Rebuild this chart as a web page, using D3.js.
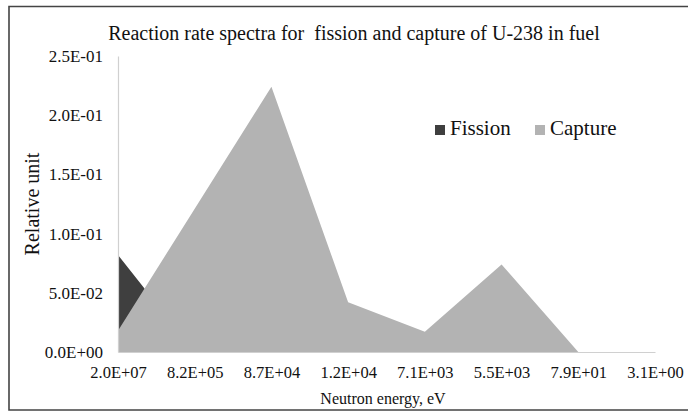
<!DOCTYPE html>
<html>
<head>
<meta charset="utf-8">
<script src="https://cdn.jsdelivr.net/npm/d3@7"></script>
<style>
  html, body { margin: 0; padding: 0; background: #fff; }
  svg { display: block; }
</style>
</head>
<body>
<svg id="chart" width="688" height="412"></svg>
<script>
// Neutron energy groups (eV), highest to lowest
const energies = ["2.0E+07", "8.2E+05", "8.7E+04", "1.2E+04", "7.1E+03", "5.5E+03", "7.9E+01", "3.1E+00"];
// Relative reaction rates per group
const fission = [0.082, 0, 0, 0, 0, 0, 0, 0];
const capture = [0.018, 0.121, 0.224, 0.042, 0.017, 0.074, 0, 0];
const yTicks = [0, 0.05, 0.10, 0.15, 0.20, 0.25];

const seriesList = [
  { name: "Fission", values: fission, color: "#3f3f3f" },
  { name: "Capture", values: capture, color: "#b3b3b3" }
];

const FONT = "'Liberation Serif', 'Times New Roman', serif";
const svg = d3.select("#chart");
const W = 688, H = 412;
const plot = { left: 118, right: 655, top: 56, bottom: 352 };

// Frame around the whole figure
svg.append("path")
  .attr("d", `M${W + 2},6.5 H9 V410 H${W + 2}`)
  .attr("fill", "none")
  .attr("stroke", "#444")
  .attr("stroke-width", 1.6);

const x = d3.scalePoint().domain(energies).range([plot.left, plot.right]);
const y = d3.scaleLinear().domain([0, 0.25]).range([plot.bottom, plot.top]);

// Scientific labels like 2.5E-01
const sci = d => {
  const [m, e] = d.toExponential(1).split("e");
  const sign = e[0] === "-" ? "-" : "+";
  return m + "E" + sign + String(Math.abs(+e)).padStart(2, "0");
};

// Areas (capture drawn over fission)
const area = d3.area()
  .x((d, i) => x(energies[i]))
  .y0(y(0))
  .y1(d => y(d));

svg.selectAll("path.series")
  .data(seriesList)
  .join("path")
  .attr("class", "series")
  .attr("d", s => area(s.values))
  .attr("fill", s => s.color);

// Y axis
const yAxis = svg.append("g")
  .attr("transform", `translate(${plot.left},0)`)
  .call(d3.axisLeft(y).tickValues(yTicks).tickFormat(sci).tickSize(0).tickPadding(15));
yAxis.select(".domain").attr("stroke", "#d0d0d0").attr("stroke-width", 1.2);
yAxis.selectAll("text")
  .attr("font-family", FONT).attr("font-size", 17).attr("fill", "#111");

// X axis
const xAxis = svg.append("g")
  .attr("transform", `translate(0,${plot.bottom})`)
  .call(d3.axisBottom(x).tickSize(0).tickPadding(14));
xAxis.select(".domain").attr("stroke", "#d0d0d0").attr("stroke-width", 1.2);
xAxis.selectAll("text")
  .attr("font-family", FONT).attr("font-size", 16.5).attr("fill", "#111");

// Title
svg.append("text")
  .attr("x", 354)
  .attr("y", 40)
  .attr("text-anchor", "middle")
  .attr("font-family", FONT)
  .attr("font-size", 20)
  .attr("fill", "#111")
  .style("white-space", "pre")
  .text("Reaction rate spectra for  fission and capture of U-238 in fuel");

// Axis titles
svg.append("text")
  .attr("transform", "translate(39,204) rotate(-90)")
  .attr("text-anchor", "middle")
  .attr("font-family", FONT)
  .attr("font-size", 20)
  .attr("fill", "#111")
  .text("Relative unit");

svg.append("text")
  .attr("x", 383)
  .attr("y", 404)
  .attr("text-anchor", "middle")
  .attr("font-family", FONT)
  .attr("font-size", 16)
  .attr("fill", "#111")
  .text("Neutron energy, eV");

// Legend
const legend = svg.append("g");
const legendX = [435, 535];
seriesList.forEach((s, i) => {
  const g = legend.append("g").attr("transform", `translate(${legendX[i]},125)`);
  g.append("rect").attr("width", 10).attr("height", 10).attr("fill", s.color);
  g.append("text").attr("x", 15).attr("y", 10)
    .attr("font-family", FONT).attr("font-size", 21).attr("fill", "#111")
    .text(s.name);
});
</script>
</body>
</html>
